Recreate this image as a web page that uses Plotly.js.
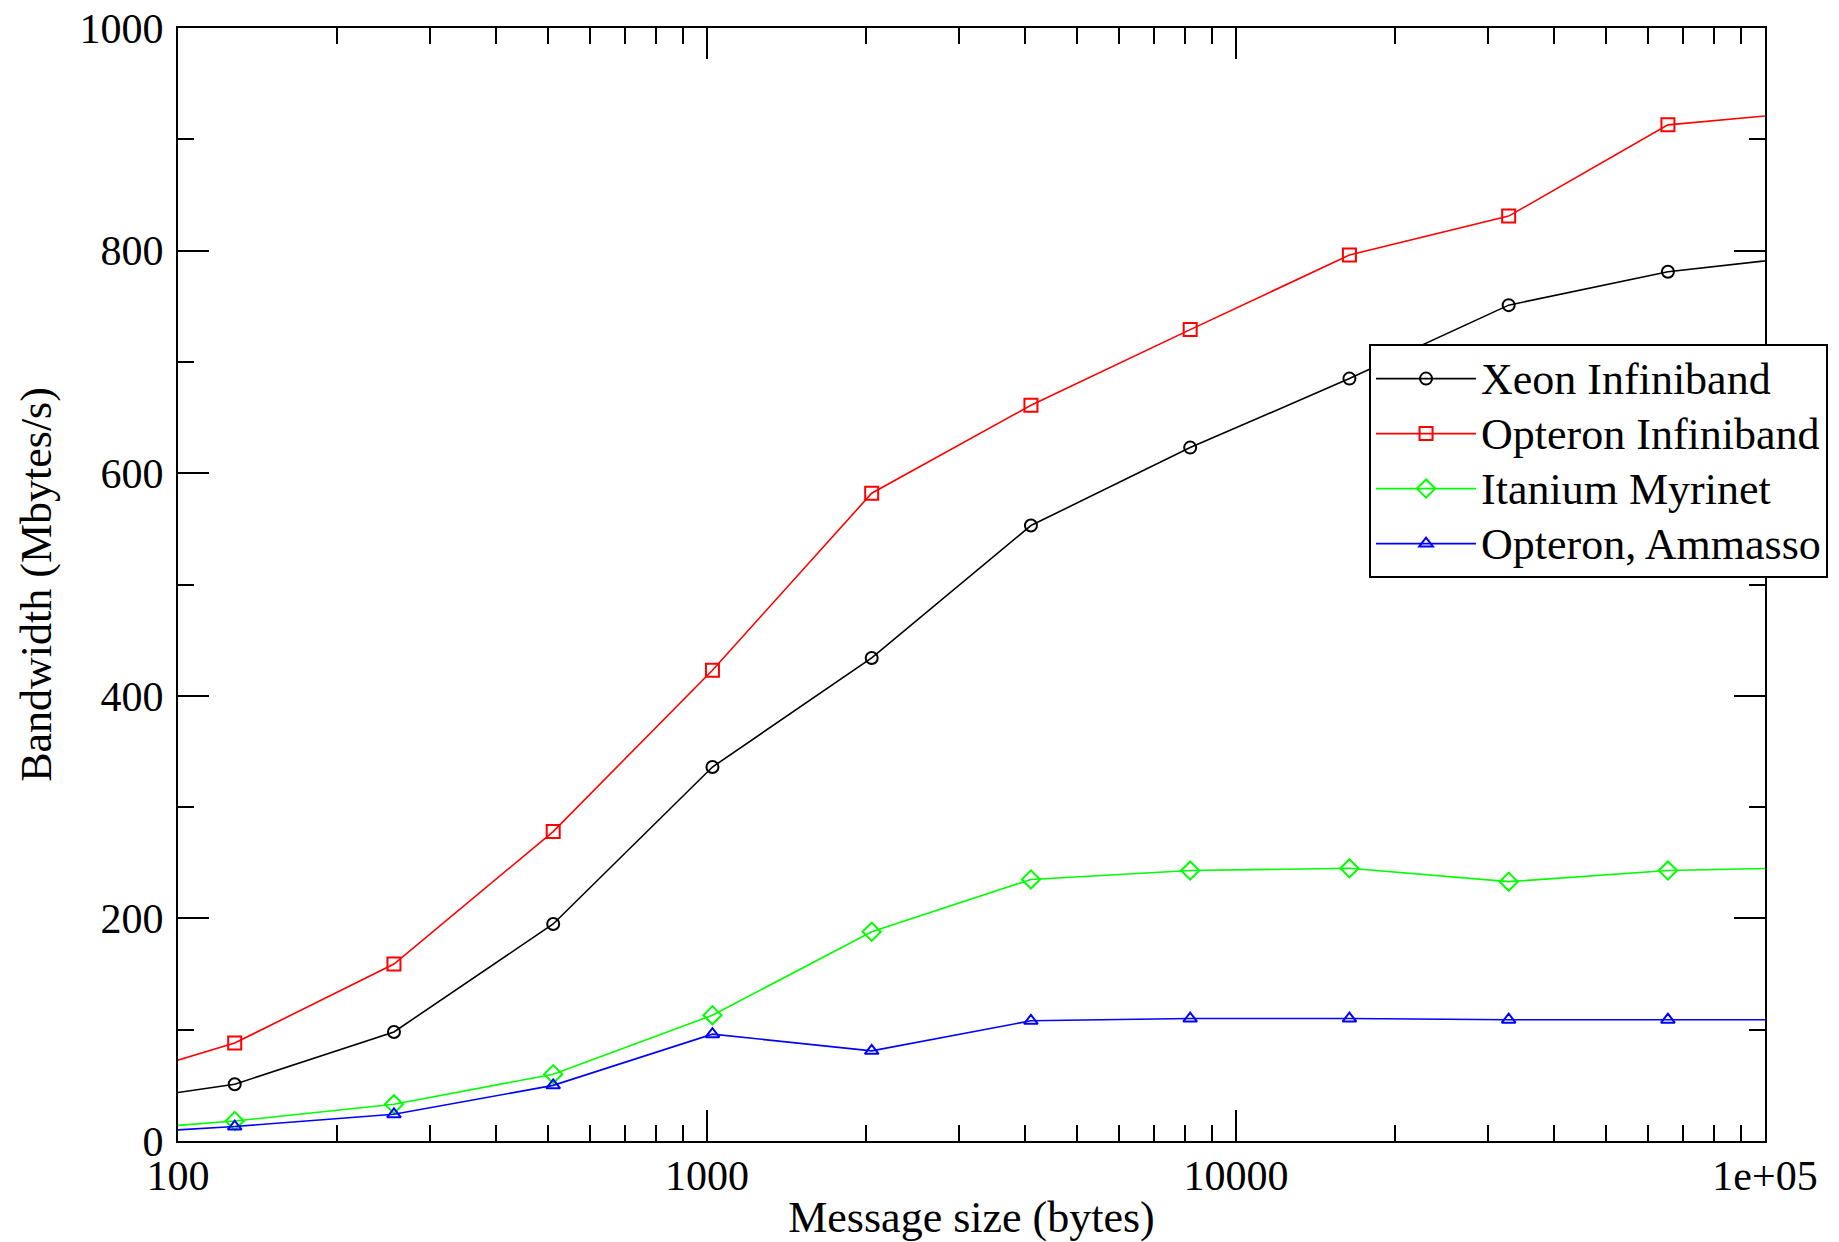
<!DOCTYPE html>
<html>
<head>
<meta charset="utf-8">
<script src="https://cdn.plot.ly/plotly-3.0.1.min.js"></script>
<style>
  html, body { margin: 0; padding: 0; background: #ffffff; }
  #chart { width: 1839px; height: 1242px; }
</style>
</head>
<body>
<div id="chart"></div>
<script>
// Message sizes (bytes); first and last points lie just outside the visible range
var messageSize = [64, 128, 256, 512, 1024, 2048, 4096, 8192, 16384, 32768, 65536, 131072];

// Bandwidth (Mbytes/s)
var xeonInfiniband    = [30, 51, 98, 195, 336, 434, 553, 623, 685, 751, 781, 797];
var opteronInfiniband = [45, 88, 159, 278, 423, 582, 661, 729, 796, 831, 913, 926];
var itaniumMyrinet    = [7, 18, 33, 60, 113, 188, 235, 243, 245, 233, 243, 246];
var opteronAmmasso    = [4.6, 13, 24, 50, 96, 81, 108, 110, 110, 109, 109, 109];

var seriesNames = ["Xeon Infiniband", "Opteron Infiniband", "Itanium Myrinet", "Opteron, Ammasso"];

var xTickVals = [100, 1000, 10000, 100000];
var xTickText = ["100", "1000", "10000", "1e+05"];

var FONT = "Liberation Serif, Times New Roman, serif";

var xMinor = [];
[100, 1000, 10000].forEach(function (d) {
  for (var k = 2; k <= 9; k++) xMinor.push(k * d);
});

function legendLabel(name) {
  return '<span style="font-size:44px">' + name + '</span>';
}

function trace(y, name, color, symbol, size) {
  return {
    x: messageSize, y: y, name: legendLabel(name), type: "scatter", mode: "lines+markers",
    line: { color: color, width: 1.6 },
    marker: { symbol: symbol, size: size, color: color, line: { color: color, width: 2 } }
  };
}

var data = [
  trace(xeonInfiniband, seriesNames[0], "#000000", "circle-open", 12),
  trace(opteronInfiniband, seriesNames[1], "#ff0000", "square-open", 13),
  trace(itaniumMyrinet, seriesNames[2], "#00ff00", "diamond-open", 14),
  trace(opteronAmmasso, seriesNames[3], "#0000ff", "triangle-up-open", 12)
];

var axisCommon = {
  showline: true, linecolor: "#000000", linewidth: 2, mirror: "ticks",
  ticks: "inside", ticklen: 31, tickwidth: 2, tickcolor: "#000000",
  showgrid: false, zeroline: false,
  tickfont: { family: FONT, size: 42, color: "#000000" }
};

var layout = {
  width: 1839, height: 1242,
  paper_bgcolor: "#ffffff", plot_bgcolor: "#ffffff",
  margin: { l: 178, r: 74, t: 28, b: 101, autoexpand: false },
  font: { family: FONT, color: "#000000" },
  showlegend: true,
  legend: {
    x: 0.7505, y: 0.716, xanchor: "left", yanchor: "top",
    bgcolor: "#ffffff", bordercolor: "#000000", borderwidth: 2,
    font: { family: FONT, size: 40, color: "#000000" },
    itemwidth: 100, tracegroupgap: 0
  },
  xaxis: Object.assign({}, axisCommon, {
    type: "log", range: [2, 5],
    tickmode: "array", tickvals: xTickVals, ticktext: xTickText,
    ticklabelstandoff: -3,
    minor: { tickmode: "array", tickvals: xMinor, ticks: "inside", ticklen: 16, tickwidth: 2, tickcolor: "#000000", showgrid: false },
    title: { text: "Message size (bytes)", font: { family: FONT, size: 44, color: "#000000" }, standoff: 4 }
  }),
  yaxis: Object.assign({}, axisCommon, {
    range: [0, 1000], tick0: 0, dtick: 200,
    ticklabelstandoff: 4,
    minor: { dtick: 100, ticks: "inside", ticklen: 16, tickwidth: 2, tickcolor: "#000000", showgrid: false },
    title: { text: "Bandwidth (Mbytes/s)", font: { family: FONT, size: 44, color: "#000000" }, standoff: 14 }
  })
};

Plotly.newPlot("chart", data, layout, { displayModeBar: false, staticPlot: true });
</script>
</body>
</html>
